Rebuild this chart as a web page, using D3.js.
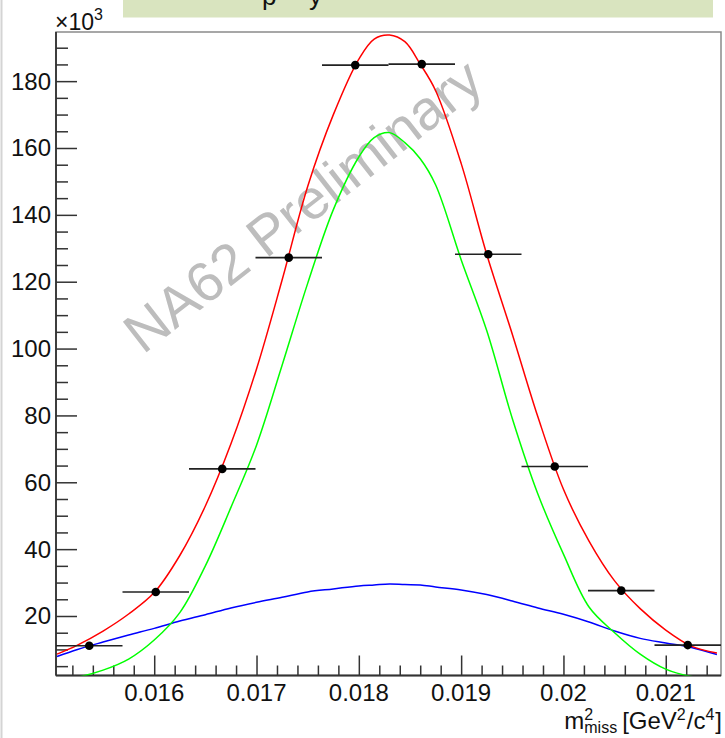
<!DOCTYPE html>
<html>
<head>
<meta charset="utf-8">
<script src="https://cdn.jsdelivr.net/npm/d3@7"></script>
<style>
body { margin: 0; background: #fff; }
svg { display: block; font-family: "Liberation Sans", Arial, Helvetica, sans-serif; }
</style>
</head>
<body>
<svg id="chart" width="725" height="738"></svg>
<script>
// histogram bins (m2_miss, GeV^2/c^4) and counts in units of 10^3
const binCenters = [0.015365, 0.016015, 0.016665, 0.017315, 0.017965, 0.018615, 0.019265, 0.019915, 0.020565, 0.021215]
const binHalfWidth = 0.000325
const counts = [11.1, 27.2, 64.0, 127.2, 184.8, 185.1, 128.2, 64.7, 27.6, 11.3]

// fit curves (x10^3)
const curveX = [0.01505, 0.01525, 0.0155, 0.01575, 0.016, 0.01625, 0.0165, 0.01675, 0.017, 0.01725,
    0.0175, 0.01775, 0.018, 0.01815, 0.0183, 0.01845, 0.0186, 0.01875, 0.019, 0.01925,
    0.0195, 0.01975, 0.02, 0.02025, 0.0205, 0.02075, 0.021, 0.02125, 0.0215]
const totalFit = [8.6, 11.3, 15.5, 20.6, 27.0, 38.1, 52.9, 71.5, 93.9, 120.5,
    148.5, 169.9, 186.6, 192.6, 193.8, 191.8, 185.1, 177.2, 155.4, 128.2,
    104.3, 79.6, 57.9, 42.4, 30.5, 22.2, 15.8, 11.0, 8.9]
const signalFit = [0.9, 1.7, 3.8, 7.1, 12.8, 21.0, 35.0, 52.5, 71.1, 95.0,
    119.5, 141.5, 157.3, 163.1, 164.6, 161.6, 156.8, 149.0, 126.6, 105.4,
    79.1, 56.5, 38.5, 22.7, 15.0, 8.6, 4.1, 1.9, 1.0]
const backgroundFit = [7.9, 10.0, 12.2, 14.3, 16.3, 18.5, 20.4, 22.4, 24.1, 25.6,
    27.2, 28.1, 29.0, 29.3, 29.6, 29.4, 29.3, 28.7, 27.8, 26.4,
    24.5, 22.4, 20.5, 18.2, 15.5, 13.3, 11.9, 10.6, 8.5]

const xTicks = [0.016, 0.017, 0.018, 0.019, 0.02, 0.021]
const yTicks = [20, 40, 60, 80, 100, 120, 140, 160, 180]

const frame = { left: 56, right: 721, top: 32, bottom: 675.5 }

const svg = d3.select('#chart')

// slide remains: border line and the cut-off title box
svg.append('line').attr('x1', 1.5).attr('x2', 1.5).attr('y1', 0).attr('y2', 738)
    .attr('stroke', '#d4d4d4').attr('stroke-width', 2)
svg.append('rect').attr('x', 123).attr('y', 0).attr('width', 590).attr('height', 17.5)
    .attr('fill', '#d9e4bf')
svg.append('text').attr('y', 5).style('font-size', '26px').attr('fill', '#111')
    .selectAll('tspan').data([['p', 262], ['y', 309]]).join('tspan')
    .attr('x', d => d[1]).text(d => d[0])

const x = d3.scaleLinear().domain([0.01504, 0.02154]).range([frame.left, frame.right])
const y = d3.scaleLinear().domain([2.2, 194.7]).range([frame.bottom, frame.top])

svg.append('defs').append('clipPath').attr('id', 'plot-clip')
    .append('rect')
    .attr('x', frame.left).attr('y', frame.top)
    .attr('width', frame.right - frame.left).attr('height', frame.bottom - frame.top)

// frame
svg.append('rect')
    .attr('x', frame.left).attr('y', frame.top)
    .attr('width', frame.right - frame.left).attr('height', frame.bottom - frame.top)
    .attr('fill', 'none').attr('stroke', '#8a8a8a').attr('stroke-width', 1.5)

// watermark
svg.append('text')
    .attr('transform', 'translate(143,355) rotate(-38)')
    .style('font-size', '56px')
    .attr('fill', '#bdbdbd')
    .text('NA62 Preliminary')

// y axis
const yAxis = svg.append('g').attr('transform', `translate(${frame.left},0)`)
yAxis.call(d3.axisRight(y).tickValues(d3.range(5, 195, 5)).tickSize(12).tickFormat(''))
yAxis.call(g => g.select('.domain').remove())
yAxis.selectAll('.tick line')
    .attr('x2', d => d % 20 === 0 ? 21 : 12)
    .attr('stroke', '#333').attr('stroke-width', 1.5)
svg.append('g').selectAll('text').data(yTicks).join('text')
    .attr('x', 51).attr('y', d => y(d) + 8.5)
    .attr('text-anchor', 'end')
    .style('font-size', '24px').attr('fill', '#111')
    .text(d => d)
svg.append('line').attr('x1', frame.left).attr('x2', frame.left)
    .attr('y1', frame.top).attr('y2', frame.bottom)
    .attr('stroke', '#333').attr('stroke-width', 1.8)

const mult = svg.append('text').attr('x', 55).attr('y', 30).style('font-size', '23px').attr('fill', '#111')
mult.append('tspan').text('×10')
mult.append('tspan').attr('dy', -10).style('font-size', '16px').text('3')

// x axis
const minorX = d3.range(76).map(i => 0.0152 + i * 0.0002).filter(v => v < 0.02154)
const xAxis = svg.append('g').attr('transform', `translate(0,${frame.bottom})`)
xAxis.call(d3.axisTop(x).tickValues(minorX).tickSize(10).tickFormat(''))
xAxis.call(g => g.select('.domain').remove())
xAxis.selectAll('.tick line')
    .attr('y2', d => xTicks.some(t => Math.abs(t - d) < 1e-7) ? -20 : -10)
    .attr('stroke', '#333').attr('stroke-width', 1.5)
svg.append('g').selectAll('text').data(xTicks).join('text')
    .attr('x', d => x(d)).attr('y', 701)
    .attr('text-anchor', 'middle')
    .style('font-size', '24px').attr('fill', '#111')
    .text(d => String(+d.toFixed(3)))
svg.append('line').attr('x1', frame.left).attr('x2', frame.right)
    .attr('y1', frame.bottom).attr('y2', frame.bottom)
    .attr('stroke', '#333').attr('stroke-width', 1.8)

// axis title: m^2_miss [GeV^2/c^4]
const title = svg.append('text').attr('x', 722).attr('y', 729)
    .attr('text-anchor', 'end').style('font-size', '24px').attr('fill', '#111')
title.append('tspan').text('m')
title.append('tspan').attr('dy', -9).style('font-size', '16px').text('2')
title.append('tspan').attr('dx', -9).attr('dy', 13).style('font-size', '16px').text('miss')
title.append('tspan').attr('dx', 5).attr('dy', -4).text('[GeV')
title.append('tspan').attr('dy', -9).style('font-size', '16px').text('2')
title.append('tspan').attr('dx', 1).attr('dy', 9).text('/c')
title.append('tspan').attr('dy', -9).style('font-size', '16px').text('4')
title.append('tspan').attr('dx', 1).attr('dy', 9).text(']')

// fit curves
const plot = svg.append('g').attr('clip-path', 'url(#plot-clip)')
const line = d3.line()
    .x(d => x(d[0]))
    .y(d => y(d[1]))
    .curve(d3.curveCatmullRom.alpha(0.5))

const fits = [
    { values: backgroundFit, color: '#0000ff' },
    { values: signalFit, color: '#00ff00' },
    { values: totalFit, color: '#ff0000' }
]
plot.selectAll('path.fit').data(fits).join('path')
    .attr('class', 'fit')
    .attr('d', f => line(curveX.map((v, i) => [v, f.values[i]])))
    .attr('fill', 'none')
    .attr('stroke', f => f.color)
    .attr('stroke-width', 1.5)

// data points with bin-width error bars
const pts = binCenters.map((c, i) => ({ x: c, y: counts[i] }))
plot.append('g').selectAll('line').data(pts).join('line')
    .attr('x1', d => x(d.x - binHalfWidth))
    .attr('x2', d => x(d.x + binHalfWidth))
    .attr('y1', d => y(d.y))
    .attr('y2', d => y(d.y))
    .attr('stroke', '#222')
    .attr('stroke-width', 1.6)
plot.append('g').selectAll('circle').data(pts).join('circle')
    .attr('cx', d => x(d.x))
    .attr('cy', d => y(d.y))
    .attr('r', 4.3)
    .attr('fill', '#000')
</script>
</body>
</html>
